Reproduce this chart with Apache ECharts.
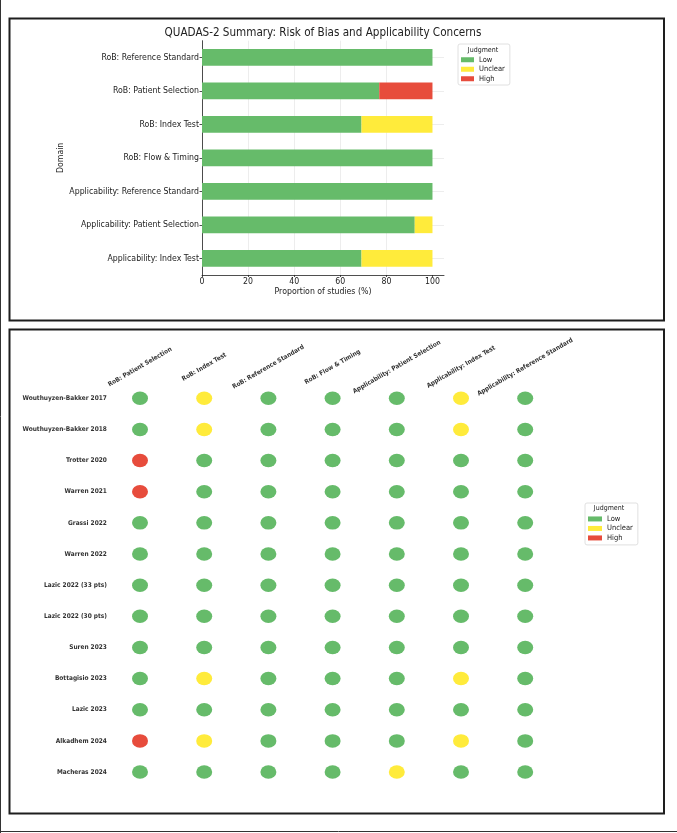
<!DOCTYPE html>
<html><head><meta charset="utf-8">
<script src="https://cdn.jsdelivr.net/npm/echarts@6/dist/echarts.min.js"></script>
<style>html,body{margin:0;padding:0;background:#fff}#c{width:677px;height:833px}</style>
</head><body><div id="c"></div>
<script>
const FONT = '"DejaVu Sans Condensed","DejaVu Sans",sans-serif';

// ---- Summary (top) ----
const summaryDomains = ['RoB: Reference Standard','RoB: Patient Selection','RoB: Index Test','RoB: Flow & Timing','Applicability: Reference Standard','Applicability: Patient Selection','Applicability: Index Test'];
const lowPct     = [100, 76.9, 69.2, 100, 100, 92.3, 69.2];
const unclearPct = [0, 0, 30.8, 0, 0, 7.7, 30.8];
const highPct    = [0, 23.1, 0, 0, 0, 0, 0];
const xTicks = [0, 20, 40, 60, 80, 100];

// ---- Traffic-light matrix (bottom) ----
const judgments = ['Low','Unclear','High'];
const judgmentColors = ['#66bb6a','#ffeb3b','#e74c3c'];
const studies = ['Wouthuyzen-Bakker 2017','Wouthuyzen-Bakker 2018','Trotter 2020','Warren 2021','Grassi 2022','Warren 2022','Lazic 2022 (33 pts)','Lazic 2022 (30 pts)','Suren 2023','Bottagisio 2023','Lazic 2023','Alkadhem 2024','Macheras 2024'];
const matrixDomains = ['RoB: Patient Selection','RoB: Index Test','RoB: Reference Standard','RoB: Flow & Timing','Applicability: Patient Selection','Applicability: Index Test','Applicability: Reference Standard'];
const robPatientSelection  = ['Low','Low','High','High','Low','Low','Low','Low','Low','Low','Low','High','Low'];
const robIndexTest         = ['Unclear','Unclear','Low','Low','Low','Low','Low','Low','Low','Unclear','Low','Unclear','Low'];
const robReferenceStandard = ['Low','Low','Low','Low','Low','Low','Low','Low','Low','Low','Low','Low','Low'];
const robFlowTiming        = ['Low','Low','Low','Low','Low','Low','Low','Low','Low','Low','Low','Low','Low'];
const appPatientSelection  = ['Low','Low','Low','Low','Low','Low','Low','Low','Low','Low','Low','Low','Unclear'];
const appIndexTest         = ['Unclear','Unclear','Low','Low','Low','Low','Low','Low','Low','Unclear','Low','Unclear','Low'];
const appReferenceStandard = ['Low','Low','Low','Low','Low','Low','Low','Low','Low','Low','Low','Low','Low'];
const matrixColumns = [robPatientSelection, robIndexTest, robReferenceStandard, robFlowTiming, appPatientSelection, appIndexTest, appReferenceStandard];

const pctArrays = [lowPct, unclearPct, highPct];

const barSeries = judgments.map((j, k) => ({
  name: j, type: 'bar', stack: 'total', xAxisIndex: 0, yAxisIndex: 0,
  barWidth: '50%', itemStyle: { color: judgmentColors[k] },
  data: pctArrays[k], emphasis: { disabled: true }
}));

const scatterSeries = judgments.map((j, k) => {
  const pts = [];
  matrixColumns.forEach((col, ci) => col.forEach((v, ri) => { if (v === j) pts.push([ci, ri]); }));
  return {
    name: j, type: 'scatter', xAxisIndex: 1, yAxisIndex: 2,
    symbol: 'circle', symbolSize: [16, 13.5],
    itemStyle: { color: judgmentColors[k], opacity: 1 },
    data: pts, emphasis: { disabled: true }
  };
});

const legendCommon = {
  orient: 'vertical', icon: 'rect', selectedMode: false,
  itemGap: 0, borderColor: '#d8d8d8', borderWidth: 0.8, borderRadius: 2,
  backgroundColor: '#fff', data: judgments,
  textStyle: { fontFamily: FONT, fontSize: 7.5, lineHeight: 9.5, color: '#222' }
};

const chart = echarts.init(document.getElementById('c'), null, { renderer: 'canvas' });
chart.setOption({
  animation: false,
  backgroundColor: '#fff',
  title: [
    { text: 'QUADAS-2 Summary: Risk of Bias and Applicability Concerns', left: 323, top: 26.5, textAlign: 'center', padding: 0,
      textStyle: { fontFamily: FONT, fontSize: 11.6, fontWeight: 'normal', color: '#222' } },
    { text: 'Judgment', left: 483, top: 46.5, textAlign: 'center', padding: 0,
      textStyle: { fontFamily: FONT, fontSize: 7, fontWeight: 'normal', color: '#222' } },
    { text: 'Judgment', left: 609, top: 505, textAlign: 'center', padding: 0,
      textStyle: { fontFamily: FONT, fontSize: 7, fontWeight: 'normal', color: '#222' } }
  ],
  legend: [
    Object.assign({}, legendCommon, { left: 458, top: 44, padding: [11, 5, 1.5, 3], itemWidth: 13, itemHeight: 5 }),
    Object.assign({}, legendCommon, { left: 585, top: 503, padding: [11.2, 5, 2.2, 3], itemWidth: 14, itemHeight: 5 })
  ],
  grid: [
    { left: 202, top: 40.7, width: 242, height: 234.3, containLabel: false },
    { left: 107.9, top: 382.7, width: 449.4, height: 404.9, containLabel: false }
  ],
  xAxis: [
    { type: 'value', gridIndex: 0, min: 0, max: 105,
      axisLine: { show: true, lineStyle: { color: '#222', width: 0.8 } },
      axisTick: { show: true, length: 2, customValues: xTicks, lineStyle: { color: '#222', width: 0.8 } },
      axisLabel: { customValues: xTicks, fontFamily: FONT, fontSize: 8.7, color: '#222', margin: 2.5 },
      splitLine: { show: true, showMaxLine: false, lineStyle: { color: '#e8e8e8', width: 0.8 } },
      name: 'Proportion of studies (%)', nameLocation: 'middle', nameGap: 12.5,
      nameTextStyle: { fontFamily: FONT, fontSize: 8.7, color: '#222' } },
    { type: 'category', gridIndex: 1, position: 'top', data: matrixDomains,
      axisLine: { show: false }, axisTick: { show: false }, splitLine: { show: false },
      axisLabel: { interval: 0, rotate: -30, align: 'center', verticalAlign: 'middle', margin: 15.7,
        fontFamily: FONT, fontSize: 6.4, fontWeight: 'bold', color: '#333' } }
  ],
  yAxis: [
    { type: 'category', gridIndex: 0, data: summaryDomains, inverse: true,
      axisLine: { show: true, lineStyle: { color: '#222', width: 0.8 } },
      axisTick: { show: true, alignWithLabel: true, length: 2.5, lineStyle: { color: '#222', width: 0.8 } },
      axisLabel: { interval: 0, fontFamily: FONT, fontSize: 8.7, color: '#222', margin: 3 },
      name: 'Domain', nameLocation: 'middle', nameGap: 132, nameRotate: 90,
      nameTextStyle: { fontFamily: FONT, fontSize: 8.7, color: '#222' } },
    { type: 'category', gridIndex: 0, data: summaryDomains, inverse: true,
      axisLine: { show: false }, axisLabel: { show: false }, splitLine: { show: false },
      axisTick: { show: true, inside: true, alignWithLabel: true, length: 242, lineStyle: { color: '#e8e8e8', width: 0.8 } } },
    { type: 'category', gridIndex: 1, data: studies, inverse: true,
      axisLine: { show: false }, axisTick: { show: false }, splitLine: { show: false },
      axisLabel: { interval: 0, fontFamily: FONT, fontSize: 6.5, fontWeight: 'bold', color: '#333', margin: 1 } }
  ],
  graphic: [
    { type: 'rect', shape: { x: 9.5, y: 18.5, width: 654.5, height: 302 }, style: { fill: null, stroke: '#1e1e1e', lineWidth: 2 }, silent: true },
    { type: 'rect', shape: { x: 9.5, y: 329.5, width: 654.5, height: 484 }, style: { fill: null, stroke: '#1e1e1e', lineWidth: 2 }, silent: true },
    { type: 'line', shape: { x1: 0.5, y1: 0, x2: 0.5, y2: 833 }, style: { stroke: '#333', lineWidth: 1 }, silent: true },
    { type: 'line', shape: { x1: 0, y1: 831.5, x2: 677, y2: 831.5 }, style: { stroke: '#333', lineWidth: 1 }, silent: true }
  ],
  series: barSeries.concat(scatterSeries)
});
</script></body></html>
